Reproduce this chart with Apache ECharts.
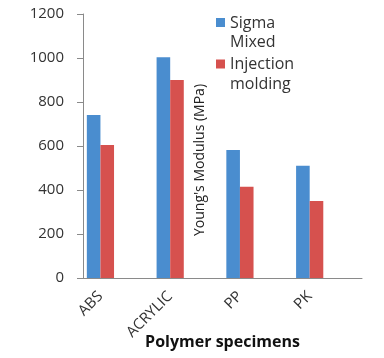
<!DOCTYPE html>
<html><head><meta charset="utf-8">
<script src="https://cdn.jsdelivr.net/npm/echarts@6/dist/echarts.min.js"></script>
<style>html,body{margin:0;padding:0;background:#fff}#c{width:384px;height:358px}</style>
</head><body><div id="c"></div>
<script>
const categories = ['ABS', '', 'ACRYLIC', '', 'PP', '', 'PK', ''];
const sigmaMixed = [741, null, 1003, null, 582, null, 510, null];
const injectionMolding = [605, null, 900, null, 415, null, 350, null];
const yTicks = { min: 0, max: 1200, interval: 200 };
const legendLines = { 'Sigma Mixed': ['Sigma', 'Mixed'], 'Injection molding': ['Injection', 'molding'] };

const chart = echarts.init(document.getElementById('c'));
const font = 'Open Sans';
chart.setOption({
  animation: false,
  backgroundColor: '#fff',
  grid: { left: 83, right: 22, top: 14, bottom: 80, containLabel: false, outerBoundsMode: 'none' },
  legend: {
    orient: 'vertical', left: 211, top: 10,
    itemWidth: 9, itemHeight: 9, itemGap: 6,
    icon: 'rect',
    formatter: n => '{a|' + legendLines[n][0] + '}\n{b|' + legendLines[n][1] + '}',
    textStyle: {
      fontFamily: font, fontSize: 16, color: '#333',
      rich: {
        a: { fontFamily: font, fontSize: 16, color: '#333', lineHeight: 40, verticalAlign: 'bottom' },
        b: { fontFamily: font, fontSize: 16, color: '#333', lineHeight: 23 }
      }
    }
  },
  xAxis: {
    type: 'category', data: categories,
    name: 'Polymer specimens', nameLocation: 'middle', nameGap: 56, nameMoveOverlap: false,
    nameTextStyle: { fontFamily: font, fontSize: 16, fontWeight: 'bold', color: '#111' },
    axisLine: { lineStyle: { color: '#8a8a8a' } },
    axisTick: { alignWithLabel: false, length: 5, lineStyle: { color: '#8a8a8a' }, interval: 0 },
    axisLabel: { interval: 0, rotate: 45, margin: 16, fontFamily: font, fontSize: 15, color: '#333' }
  },
  yAxis: {
    type: 'value', min: yTicks.min, max: yTicks.max, interval: yTicks.interval,
    name: "Young's Modulus (MPa)", nameLocation: 'middle', nameGap: -124, nameMoveOverlap: false,
    nameTextStyle: { fontFamily: font, fontSize: 14, color: '#222', padding: [0, 28, 0, 0] },
    axisLine: { show: true, lineStyle: { color: '#8a8a8a' } },
    axisTick: { show: true, length: 6, lineStyle: { color: '#8a8a8a' } },
    splitLine: { show: false },
    axisLabel: { margin: 19, fontFamily: font, fontSize: 15, color: '#333', formatter: v => String(v) }
  },
  series: [
    { name: 'Sigma Mixed', type: 'bar', data: sigmaMixed, itemStyle: { color: '#4a8dcf' }, barGap: '0%', barCategoryGap: '22%' },
    { name: 'Injection molding', type: 'bar', data: injectionMolding, itemStyle: { color: '#d6514e' }, barGap: '0%', barCategoryGap: '22%' }
  ]
});
</script></body></html>
